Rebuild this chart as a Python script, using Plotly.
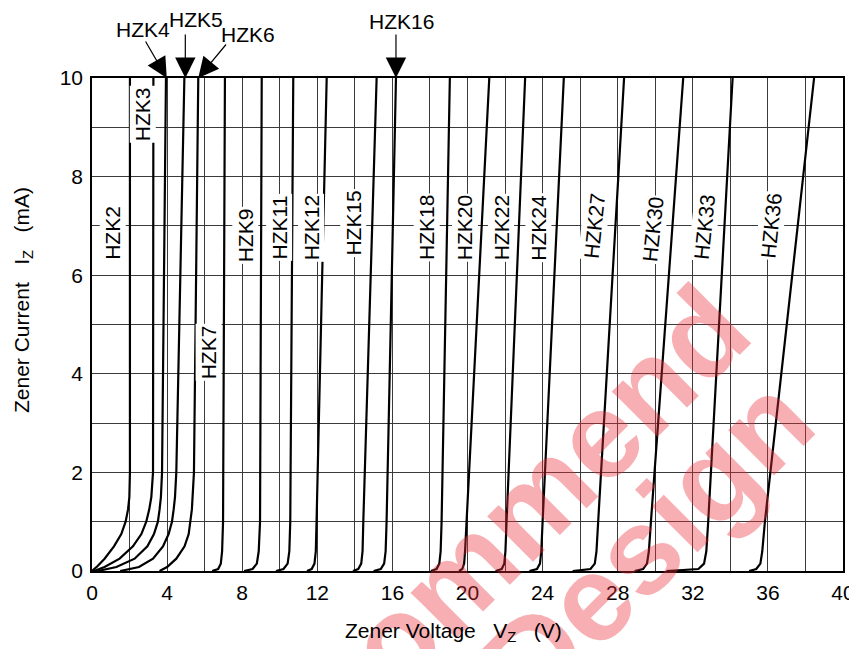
import plotly.graph_objects as go

# ---- data: (Vz in V, Iz in mA) per device ----
curve_names = ["HZK2", "HZK3", "HZK4", "HZK5", "HZK6", "HZK7", "HZK9", "HZK11", "HZK12",
               "HZK15", "HZK16", "HZK18", "HZK20", "HZK22", "HZK24", "HZK27", "HZK30",
               "HZK33", "HZK36"]

hzk2_v = [0.0, 0.30, 0.67, 1.17, 1.56, 1.79, 1.92, 1.99, 2.02, 2.02]
hzk2_i = [0.0, 0.10, 0.25, 0.50, 0.75, 1.00, 1.25, 1.50, 2.00, 10.0]
hzk3_v = [0.10, 0.67, 1.47, 2.18, 2.63, 2.89, 3.05, 3.16, 3.25, 3.27]
hzk3_i = [0.0, 0.08, 0.25, 0.50, 0.75, 1.00, 1.25, 1.50, 2.00, 10.0]
hzk4_v = [0.30, 1.30, 2.27, 2.95, 3.30, 3.51, 3.60, 3.67, 3.73, 3.94]
hzk4_i = [0.0, 0.08, 0.25, 0.50, 0.75, 1.00, 1.25, 1.50, 2.00, 10.0]
hzk5_v = [1.50, 2.50, 3.25, 3.78, 4.08, 4.26, 4.35, 4.42, 4.49, 4.92]
hzk5_i = [0.0, 0.08, 0.25, 0.50, 0.75, 1.00, 1.25, 1.50, 2.00, 10.0]
hzk6_v = [3.60, 4.00, 4.49, 4.93, 5.15, 5.25, 5.32, 5.43, 5.66]
hzk6_i = [0.0, 0.08, 0.25, 0.50, 0.75, 1.00, 1.25, 2.00, 10.0]
hzk7_v = [6.40, 6.72, 6.86, 6.93, 6.98, 7.08]
hzk7_i = [0.0, 0.04, 0.15, 0.40, 1.00, 10.0]
hzk9_v = [8.10, 8.55, 8.78, 8.88, 8.95, 9.04]
hzk9_i = [0.0, 0.04, 0.15, 0.40, 1.00, 10.0]
hzk11_v = [9.80, 10.20, 10.42, 10.51, 10.56, 10.72]
hzk11_i = [0.0, 0.04, 0.15, 0.40, 1.00, 10.0]
hzk12_v = [11.45, 11.70, 11.85, 11.92, 11.96, 12.50]
hzk12_i = [0.0, 0.04, 0.15, 0.40, 1.00, 10.0]
hzk15_v = [13.90, 14.18, 14.34, 14.41, 14.45, 15.16]
hzk15_i = [0.0, 0.04, 0.15, 0.40, 1.00, 10.0]
hzk16_v = [15.00, 15.38, 15.56, 15.64, 15.69, 16.19]
hzk16_i = [0.0, 0.04, 0.15, 0.40, 1.00, 10.0]
hzk18_v = [18.05, 18.35, 18.50, 18.57, 18.62, 19.06]
hzk18_i = [0.0, 0.04, 0.15, 0.40, 1.00, 10.0]
hzk20_v = [19.55, 19.72, 19.82, 19.87, 19.95, 21.16]
hzk20_i = [0.0, 0.04, 0.15, 0.40, 1.00, 10.0]
hzk22_v = [21.50, 21.82, 21.96, 22.02, 22.08, 23.07]
hzk22_i = [0.0, 0.04, 0.15, 0.40, 1.00, 10.0]
hzk24_v = [23.30, 23.70, 23.86, 23.93, 24.00, 25.13]
hzk24_i = [0.0, 0.04, 0.15, 0.40, 1.00, 10.0]
hzk27_v = [25.60, 26.55, 26.78, 26.87, 26.96, 28.34]
hzk27_i = [0.0, 0.04, 0.15, 0.40, 1.00, 10.0]
hzk30_v = [28.90, 29.35, 29.56, 29.66, 29.77, 31.49]
hzk30_i = [0.0, 0.04, 0.15, 0.40, 1.00, 10.0]
hzk33_v = [30.60, 32.30, 32.60, 32.72, 32.82, 34.12]
hzk33_i = [0.0, 0.04, 0.15, 0.40, 1.00, 10.0]
hzk36_v = [35.00, 35.38, 35.60, 35.70, 35.84, 38.46]
hzk36_i = [0.0, 0.04, 0.15, 0.40, 1.00, 10.0]

curve_v = [hzk2_v, hzk3_v, hzk4_v, hzk5_v, hzk6_v, hzk7_v, hzk9_v, hzk11_v, hzk12_v,
           hzk15_v, hzk16_v, hzk18_v, hzk20_v, hzk22_v, hzk24_v, hzk27_v, hzk30_v,
           hzk33_v, hzk36_v]
curve_i = [hzk2_i, hzk3_i, hzk4_i, hzk5_i, hzk6_i, hzk7_i, hzk9_i, hzk11_i, hzk12_i,
           hzk15_i, hzk16_i, hzk18_i, hzk20_i, hzk22_i, hzk24_i, hzk27_i, hzk30_i,
           hzk33_i, hzk36_i]

# in-plot vertical labels (name, V, I, angle)
label_names = ["HZK2", "HZK3", "HZK7", "HZK9", "HZK11", "HZK12", "HZK15", "HZK18", "HZK20",
               "HZK22", "HZK24", "HZK27", "HZK30", "HZK33", "HZK36"]
label_v = [1.12, 2.73, 6.19, 8.18, 9.96, 11.66, 13.91, 17.82, 19.86, 21.78, 23.77,
           26.78, 29.89, 32.64, 36.19]
label_i = [6.86, 9.27, 4.44, 6.80, 6.97, 6.97, 7.05, 6.97, 6.97, 6.97, 6.97,
           7.00, 6.92, 6.98, 7.00]
label_angle = [-90] * 11 + [-84] * 4

# arrow labels above the plot (text position in paper units above the plot)
arrow_names = ["HZK4", "HZK5", "HZK6", "HZK16"]
arrow_tip_v = [3.98, 4.97, 5.66, 16.19]
arrow_text_v = [2.72, 5.56, 8.30, 16.48]
arrow_text_y = [1.099, 1.118, 1.089, 1.115]
arrow_ax = [-22, 0, 29, 0]
arrow_ay = [-38, -45, -35, -45]

x_ticks = [0, 4, 8, 12, 16, 20, 24, 28, 32, 36, 40]
y_ticks = [0, 2, 4, 6, 8, 10]

FONT = "Liberation Sans, Arial, sans-serif"
WM = "rgba(235,45,55,0.38)"

fig = go.Figure()
for name, vv, ii in zip(curve_names, curve_v, curve_i):
    fig.add_trace(go.Scatter(x=vv, y=ii, mode="lines", name=name,
                             line=dict(color="black", width=2.2), showlegend=False,
                             hoverinfo="skip"))

annotations = []

# watermark
annotations.append(dict(text="Not Recommend", xref="paper", yref="paper", x=0.389, y=-0.162,
                        xanchor="center", yanchor="middle",
                        showarrow=False, textangle=-45,
                        font=dict(family=FONT, size=122, weight="bold", color=WM)))
annotations.append(dict(text="for New Design", xref="paper", yref="paper", x=0.513, y=-0.288,
                        xanchor="center", yanchor="middle",
                        showarrow=False, textangle=-45,
                        font=dict(family=FONT, size=122, weight="bold", color=WM)))

for n, v, i, a in zip(label_names, label_v, label_i, label_angle):
    annotations.append(dict(text=n, x=v, y=i, xref="x", yref="y", showarrow=False,
                            xanchor="center", yanchor="middle",
                            textangle=a, bgcolor="white", borderpad=1,
                            font=dict(family=FONT, size=21, color="black")))

for n, tv, txv, txy, ax, ay in zip(arrow_names, arrow_tip_v, arrow_text_v, arrow_text_y,
                                   arrow_ax, arrow_ay):
    annotations.append(dict(text="", x=tv, y=10, xref="x", yref="y", showarrow=True,
                            ax=ax, ay=ay, arrowhead=2, arrowsize=3.4, arrowwidth=1.2,
                            arrowcolor="black", standoff=0))
    annotations.append(dict(text=n, x=txv, y=txy, xref="x", yref="paper", showarrow=False,
                            xanchor="center", yanchor="middle",
                            font=dict(family=FONT, size=21, color="black")))

# axis titles
annotations.append(dict(text="Zener Voltage&nbsp;&nbsp;&nbsp;V<sub>Z</sub>&nbsp;&nbsp;&nbsp;(V)",
                        xref="paper", yref="paper", x=(453 - 92) / 751, y=(571 - 632) / 493,
                        xanchor="center", yanchor="middle",
                        showarrow=False, font=dict(family=FONT, size=21, color="black")))
annotations.append(dict(text="Zener Current&nbsp;&nbsp;&nbsp;I<sub>Z</sub>&nbsp;&nbsp;&nbsp;(mA)",
                        xref="paper", yref="paper", x=(23 - 92) / 751, y=(571 - 300) / 493,
                        xanchor="center", yanchor="middle",
                        showarrow=False, textangle=-90,
                        font=dict(family=FONT, size=21, color="black")))

fig.update_layout(
    width=849, height=641,
    margin=dict(l=84, r=14, t=70, b=78, autoexpand=False),
    paper_bgcolor="white", plot_bgcolor="white",
    annotations=annotations,
    font=dict(family=FONT, size=21, color="black"),
)
fig.update_xaxes(range=[0, 40], tickvals=x_ticks, ticktext=[str(t) for t in x_ticks],
                 showgrid=True, gridcolor="#3a3a3a", gridwidth=1,
                 minor=dict(dtick=2, showgrid=True, gridcolor="#3a3a3a", gridwidth=1),
                 showline=True, linecolor="black", linewidth=1.5, mirror=True,
                 ticks="outside", ticklen=2, tickcolor="rgba(0,0,0,0)", zeroline=False,
                 automargin=False,
                 tickfont=dict(family=FONT, size=21, color="black"))
fig.update_yaxes(range=[0, 10], tickvals=y_ticks, ticktext=[str(t) for t in y_ticks],
                 showgrid=True, gridcolor="#3a3a3a", gridwidth=1,
                 minor=dict(dtick=1, showgrid=True, gridcolor="#3a3a3a", gridwidth=1),
                 showline=True, linecolor="black", linewidth=1.5, mirror=True,
                 ticks="outside", ticklen=3, tickcolor="rgba(0,0,0,0)", zeroline=False,
                 automargin=False,
                 tickfont=dict(family=FONT, size=21, color="black"))

fig.write_html("out.html")
